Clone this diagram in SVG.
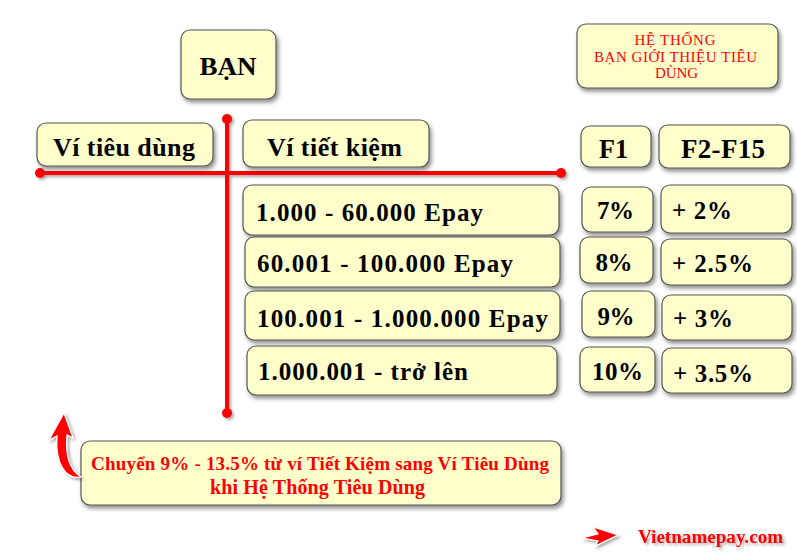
<svg xmlns="http://www.w3.org/2000/svg" width="797" height="557" viewBox="0 0 797 557" font-family="'Liberation Serif', 'Times New Roman', serif">
<defs>
<filter id="sh" x="-10%" y="-20%" width="130%" height="160%">
<feDropShadow dx="2" dy="3" stdDeviation="2" flood-color="#000" flood-opacity="0.45"/>
</filter>
<filter id="ts" x="-10%" y="-30%" width="130%" height="170%">
<feDropShadow dx="2" dy="2" stdDeviation="1.5" flood-color="#000" flood-opacity="0.35"/>
</filter>
</defs>
<style>
.box{fill:#FFFFCC;stroke:#555;stroke-width:1.2;filter:url(#sh)}
text{font-family:'Liberation Serif','Times New Roman',serif;font-weight:bold;fill:#000}
.c{text-anchor:middle}
.r{fill:#FF0000}
.n{font-weight:normal}
.ln{stroke:#FF0000;stroke-width:4;fill:none}
</style>
<rect width="797" height="557" fill="#fff"/>
<g id="connectors" filter="url(#ts)">
<line class="ln" x1="40" y1="173" x2="561" y2="173"/>
<line class="ln" x1="227" y1="119" x2="227" y2="413"/>
<circle cx="40" cy="173" r="5" fill="#FF0000"/>
<circle cx="561" cy="173" r="5" fill="#FF0000"/>
<circle cx="227" cy="119" r="5" fill="#FF0000"/>
<circle cx="227" cy="413" r="5" fill="#FF0000"/>
</g>
<g id="ban"><rect class="box" x="181" y="30" width="95" height="69" rx="9"/><text class="c" x="228" y="75" font-size="26" textLength="57" lengthAdjust="spacingAndGlyphs">BẠN</text></g>
<g id="vi-tieu-dung"><rect class="box" x="37" y="123" width="176" height="43" rx="9"/><text class="c" x="124" y="156" font-size="26" textLength="142" lengthAdjust="spacing">Ví tiêu dùng</text></g>
<g id="vi-tiet-kiem"><rect class="box" x="243" y="120" width="186" height="47" rx="9"/><text class="c" x="334.5" y="156" font-size="26" textLength="135" lengthAdjust="spacing">Ví tiết kiệm</text></g>
<g id="he-thong"><rect class="box" x="577" y="24" width="201" height="64" rx="9"/>
<text class="c r n" x="675" y="45" font-size="15" textLength="81" lengthAdjust="spacing">HỆ THỐNG</text>
<text class="c r n" x="675.5" y="62" font-size="15" textLength="163" lengthAdjust="spacing">BẠN GIỚI THIỆU TIÊU</text>
<text class="c r n" x="676.5" y="78" font-size="15" textLength="43" lengthAdjust="spacing">DÙNG</text></g>
<g id="f1"><rect class="box" x="581" y="126" width="70" height="41" rx="9"/><text class="c" x="613.5" y="158" font-size="27" textLength="29" lengthAdjust="spacingAndGlyphs">F1</text></g>
<g id="f2-f15"><rect class="box" x="659" y="125" width="131" height="43" rx="9"/><text class="c" x="723" y="158" font-size="27" textLength="84" lengthAdjust="spacing">F2-F15</text></g>
<g id="range1"><rect class="box" x="243" y="185" width="316" height="50" rx="9"/><text x="256" y="221" font-size="25" textLength="227" lengthAdjust="spacing">1.000 - 60.000 Epay</text></g>
<g id="range2"><rect class="box" x="245" y="237" width="315" height="50" rx="9"/><text x="257" y="272" font-size="25" textLength="256" lengthAdjust="spacing">60.001 - 100.000 Epay</text></g>
<g id="range3"><rect class="box" x="245" y="291" width="315" height="49" rx="9"/><text x="257" y="327" font-size="25" textLength="291" lengthAdjust="spacing">100.001 - 1.000.000 Epay</text></g>
<g id="range4"><rect class="box" x="247" y="346" width="310" height="49" rx="9"/><text x="258" y="380" font-size="25" textLength="210" lengthAdjust="spacing">1.000.001 - trở lên</text></g>
<g id="f1-r1"><rect class="box" x="582" y="187" width="71" height="45" rx="9"/><text class="c" x="615.5" y="219" font-size="25" textLength="37" lengthAdjust="spacing">7%</text></g>
<g id="f1-r2"><rect class="box" x="580" y="237" width="73" height="46" rx="9"/><text class="c" x="614" y="271" font-size="25" textLength="37" lengthAdjust="spacing">8%</text></g>
<g id="f1-r3"><rect class="box" x="582" y="291" width="73" height="46" rx="9"/><text class="c" x="616" y="325" font-size="25" textLength="37" lengthAdjust="spacing">9%</text></g>
<g id="f1-r4"><rect class="box" x="580" y="347" width="75" height="45" rx="9"/><text class="c" x="617.5" y="380" font-size="25" textLength="51" lengthAdjust="spacing">10%</text></g>
<g id="f2-r1"><rect class="box" x="661" y="185" width="131" height="48" rx="9"/><text x="672" y="219" font-size="25" textLength="60" lengthAdjust="spacing">+ 2%</text></g>
<g id="f2-r2"><rect class="box" x="661" y="239" width="131" height="46" rx="9"/><text x="672" y="272" font-size="25" textLength="81" lengthAdjust="spacing">+ 2.5%</text></g>
<g id="f2-r3"><rect class="box" x="662" y="295" width="130" height="45" rx="9"/><text x="673" y="327" font-size="25" textLength="60" lengthAdjust="spacing">+ 3%</text></g>
<g id="f2-r4"><rect class="box" x="662" y="348" width="130" height="45" rx="9"/><text x="673" y="382" font-size="25" textLength="80" lengthAdjust="spacing">+ 3.5%</text></g>
<g id="note"><rect class="box" x="81" y="441" width="480" height="64" rx="9"/>
<text class="c r" x="320" y="470" font-size="19" textLength="458" lengthAdjust="spacing">Chuyển 9% - 13.5% từ ví Tiết Kiệm sang Ví Tiêu Dùng</text>
<text class="c r" x="317.5" y="494" font-size="20" textLength="215" lengthAdjust="spacing">khi Hệ Thống Tiêu Dùng</text></g>
<g id="curved-arrow" filter="url(#ts)">
<path d="M64,413 L73,438 L67,435 C65,456 70,470 81,477 C66,480 55,464 57,436 L49,440 Z" fill="#FF0000" stroke="#fff" stroke-width="1.2"/>
</g>
<g id="site">
<path d="M582,538 L598,534 L593,527 L618,535 L595,546 L598,541 Z" fill="#FF0000" stroke="#fff" stroke-width="1.2" filter="url(#ts)"/>
<text class="r" x="638" y="543" font-size="19" textLength="145" lengthAdjust="spacing" filter="url(#ts)">Vietnamepay.com</text>
</g>
</svg>
